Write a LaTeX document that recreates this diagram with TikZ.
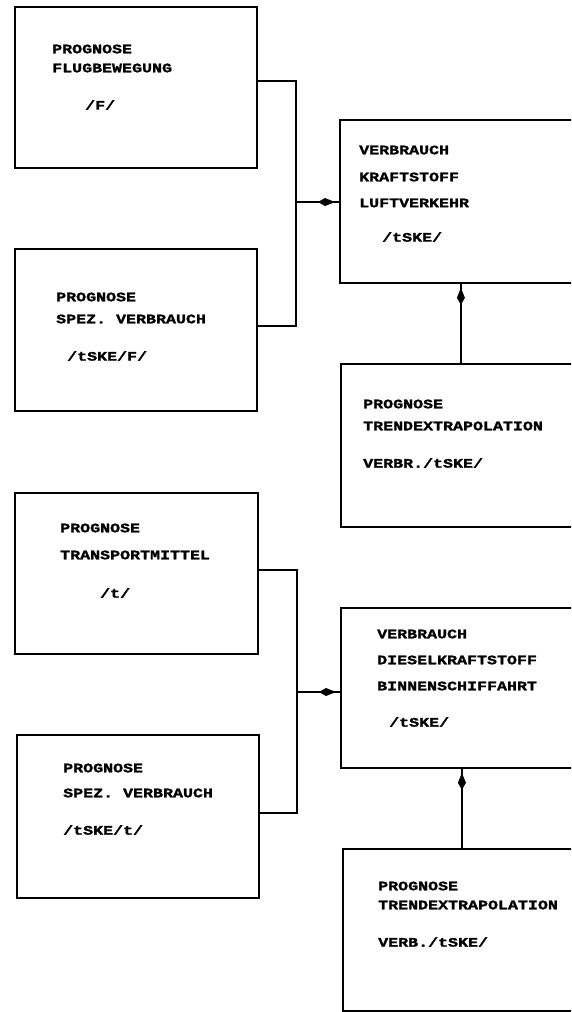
\documentclass[tikz,border=0pt]{standalone}
\usepackage{fontspec}
\newfontfamily\tw[FakeStretch=1.28,FakeBold=1.5]{Liberation Mono}
\usetikzlibrary{arrows.meta,decorations.markings}
\begin{document}
\begin{tikzpicture}[x=1pt,y=-1pt,
  boxs/.style={draw,line width=1.8pt,anchor=north west,inner sep=0pt},
  lbl/.style={anchor=west,inner sep=0pt,font=\tw\bfseries\fontsize{13}{15}\selectfont},
  conn/.style={line width=1.8pt},
  arr/.style={postaction={decorate},decoration={markings,
     mark=at position -4pt with {\arrow{Kite[length=17pt,width=8pt,inset=7pt]}}}}]
\useasboundingbox (0,0) rectangle (571,1012);
\fill[white] (0,0) rectangle (571,1012);
\clip (0,0) rectangle (571,1012);
% boxes
\node[boxs,minimum width=242pt,minimum height=161pt] (b1) at (14,6) {};
\node[boxs,minimum width=242pt,minimum height=162pt] (b2) at (14,248) {};
\node[boxs,minimum width=241pt,minimum height=163pt] (b3) at (339,119) {};
\node[boxs,minimum width=240pt,minimum height=163pt] (b4) at (340,363) {};
\node[boxs,minimum width=243pt,minimum height=161pt] (b5) at (14,492) {};
\node[boxs,minimum width=242pt,minimum height=163pt] (b6) at (16,734) {};
\node[boxs,minimum width=240pt,minimum height=160pt] (b7) at (340,607) {};
\node[boxs,minimum width=238pt,minimum height=162pt] (b8) at (342,848) {};
% texts
\node[lbl] (t1a) at (52,49) {PROGNOSE};
\node[lbl] (t1b) at (52,68) {FLUGBEWEGUNG};
\node[lbl] (t1c) at (85,105) {/F/};
\node[lbl] (t2a) at (56,297) {PROGNOSE};
\node[lbl] (t2b) at (56,319) {SPEZ. VERBRAUCH};
\node[lbl] (t2c) at (67,356) {/tSKE/F/};
\node[lbl] (t3a) at (359,150) {VERBRAUCH};
\node[lbl] (t3b) at (359,177) {KRAFTSTOFF};
\node[lbl] (t3c) at (359,203) {LUFTVERKEHR};
\node[lbl] (t3d) at (382,237) {/tSKE/};
\node[lbl] (t4a) at (363,404) {PROGNOSE};
\node[lbl] (t4b) at (363,426) {TRENDEXTRAPOLATION};
\node[lbl] (t4c) at (363,463) {VERBR./tSKE/};
\node[lbl] (t5a) at (60,528) {PROGNOSE};
\node[lbl] (t5b) at (60,555) {TRANSPORTMITTEL};
\node[lbl] (t5c) at (100,593) {/t/};
\node[lbl] (t6a) at (63,768) {PROGNOSE};
\node[lbl] (t6b) at (63,793) {SPEZ. VERBRAUCH};
\node[lbl] (t6c) at (63,830) {/tSKE/t/};
\node[lbl] (t7a) at (377,634) {VERBRAUCH};
\node[lbl] (t7b) at (377,660) {DIESELKRAFTSTOFF};
\node[lbl] (t7c) at (377,686) {BINNENSCHIFFAHRT};
\node[lbl] (t7d) at (389,722) {/tSKE/};
\node[lbl] (t8a) at (378,886) {PROGNOSE};
\node[lbl] (t8b) at (378,905) {TRENDEXTRAPOLATION};
\node[lbl] (t8c) at (378,942) {VERB./tSKE/};
% connectors upper group
\coordinate (j1) at (296,202);
\draw[conn] ([yshift=6.5pt]b1.east) -| (j1);
\draw[conn] ([yshift=4pt]b2.east) -| (j1);
\draw[conn,arr] (j1) -- (b3.west |- j1);
\draw[conn,arr] (b4.north) -- (b3.south -| b4.north);
% connectors lower group
\coordinate (j2) at (297,692);
\draw[conn] ([yshift=3.5pt]b5.east) -| (j2);
\draw[conn] ([yshift=3.5pt]b6.east) -| (j2);
\draw[conn,arr] (j2) -- (b7.west |- j2);
\draw[conn,arr] (b8.north) -- (b7.south -| b8.north);
\end{tikzpicture}
\end{document}
